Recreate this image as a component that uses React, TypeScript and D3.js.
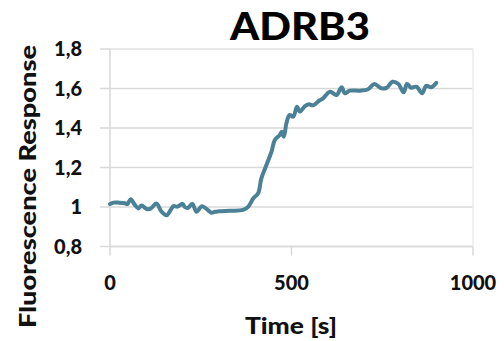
import React from "react";
import * as d3 from "d3";

const times = [0, 10, 25, 41, 48, 57, 68, 78, 87, 101, 112, 128, 142, 156, 167, 175, 186, 200, 206, 214, 227, 238, 253, 264, 280, 289, 300, 330, 367, 381, 395, 408, 417, 431, 445, 454, 468, 473, 479, 486, 495, 505, 515, 523, 537, 548, 560, 576, 587, 606, 624, 638, 647, 661, 688, 711, 728, 748, 762, 778, 794, 809, 818, 830, 844, 860, 871, 885, 899];
const values = [1.015, 1.022, 1.022, 1.019, 1.015, 1.039, 1.012, 0.993, 1.007, 0.99, 0.992, 1.018, 0.976, 0.958, 0.985, 1.004, 1.002, 1.016, 1.0, 0.995, 1.016, 0.976, 1.004, 0.993, 0.971, 0.976, 0.978, 0.981, 0.985, 1.002, 1.044, 1.069, 1.145, 1.213, 1.28, 1.339, 1.365, 1.381, 1.356, 1.424, 1.466, 1.457, 1.508, 1.483, 1.511, 1.52, 1.515, 1.538, 1.55, 1.584, 1.567, 1.606, 1.576, 1.589, 1.589, 1.596, 1.623, 1.601, 1.603, 1.634, 1.624, 1.581, 1.623, 1.604, 1.609, 1.576, 1.614, 1.606, 1.629];

const xTicks = [0, 500, 1000];
const yTicks = [0.8, 1.0, 1.2, 1.4, 1.6, 1.8];
const yTickLabels = ["0,8", "1", "1,2", "1,4", "1,6", "1,8"];

const title = "ADRB3";
const xLabel = "Time [s]";
const yLabel = "Fluorescence Response";

const W = 504;
const H = 341;
const left = 110;
const right = 473;
const top = 49;
const bottom = 246.5;
const FONT = "Lato, 'Noto Sans', sans-serif";

export default function App() {
  const x = d3.scaleLinear().domain([0, 1000]).range([left, right]);
  const y = d3.scaleLinear().domain([0.8, 1.8]).range([bottom, top]);
  const pts = times.map((t, i) => [t, values[i]] as [number, number]);
  const line = d3
    .line<[number, number]>()
    .x((d) => x(d[0]))
    .y((d) => y(d[1]))
    .curve(d3.curveCatmullRom.alpha(0.5));

  return (
    <svg
      width={W}
      height={H}
      style={{ position: "absolute", left: 0, top: 0, background: "#fff" }}
      fontFamily={FONT}
    >
      <rect x={0} y={0} width={W} height={H} fill="#fff" />
      {yTicks.map((v) => (
        <line key={v} x1={left} x2={right} y1={y(v)} y2={y(v)} stroke="#d9d9d9" strokeWidth={1.5} />
      ))}
      <line x1={left} x2={right} y1={top} y2={top} stroke="#ebebeb" strokeWidth={1.5} />
      <line x1={right} x2={right} y1={top} y2={bottom} stroke="#ebebeb" strokeWidth={1.5} />
      <line x1={left} x2={left} y1={top} y2={bottom} stroke="#d9d9d9" strokeWidth={1.5} />
      <line x1={left} x2={right} y1={bottom} y2={bottom} stroke="#d9d9d9" strokeWidth={1.5} />
      {yTicks.map((v) => (
        <line key={"yt" + v} x1={left - 10} x2={left} y1={y(v)} y2={y(v)} stroke="#d9d9d9" strokeWidth={1.5} />
      ))}
      {xTicks.map((t) => (
        <line key={"xt" + t} x1={x(t)} x2={x(t)} y1={bottom} y2={bottom + 9} stroke="#d9d9d9" strokeWidth={1.5} />
      ))}
      <path d={line(pts) ?? ""} fill="none" stroke="#4a8196" strokeWidth={4} strokeLinejoin="round" strokeLinecap="round" />
      {yTicks.map((v, i) => (
        <text key={"yl" + v} x={82} y={y(v) + 7} textAnchor="end" fontSize={20} fontWeight={900} fill="#111">
          {yTickLabels[i]}
        </text>
      ))}
      {xTicks.map((t) => (
        <text key={"xl" + t} x={x(t)} y={290} textAnchor="middle" fontSize={20} fontWeight={900} fill="#111">
          {t}
        </text>
      ))}
      <text x={300} y={40} textAnchor="middle" fontSize={37} fontWeight={900} fill="#000" textLength={140} lengthAdjust="spacingAndGlyphs">
        {title}
      </text>
      <text x={291} y={334} textAnchor="middle" fontSize={22} fontWeight={900} fill="#111" textLength={92} lengthAdjust="spacingAndGlyphs">
        {xLabel}
      </text>
      <text
        transform={`translate(36, 186.5) rotate(-90)`}
        textAnchor="middle"
        fontSize={23}
        fontWeight={900}
        fill="#111"
        textLength={283}
        lengthAdjust="spacingAndGlyphs"
      >
        {yLabel}
      </text>
    </svg>
  );
}
